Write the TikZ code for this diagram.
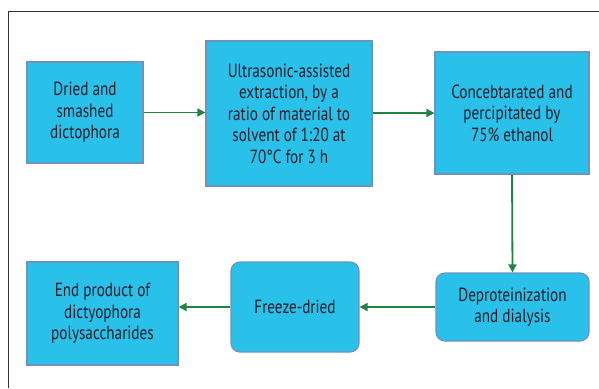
\documentclass[tikz,border=0pt]{standalone}
\usepackage{fontspec}
\setmainfont{PT Sans}[FakeStretch=0.8]
\usetikzlibrary{arrows.meta}
\definecolor{boxfill}{HTML}{29C0EA}
\definecolor{boxline}{HTML}{6F93C0}
\definecolor{arrowc}{HTML}{1F8442}
\definecolor{txt}{HTML}{1C1F2A}
\definecolor{framec}{HTML}{333333}
\tikzset{
  stepbox/.style={draw=boxline, line width=1.2pt, fill=boxfill, inner sep=0pt,
    text=txt, align=center, font=\fontsize{19}{21.5}\selectfont},
  roundbox/.style={stepbox, rounded corners=9pt},
  flow/.style={draw=arrowc, line width=1.8pt, -{Triangle[length=8pt,width=8pt]}}
}
\begin{document}
\begin{tikzpicture}[x=1pt,y=-1pt]
\useasboundingbox (0,0) rectangle (599,388);
\fill[white] (0,0) rectangle (599,388);
\draw[framec, line width=1pt] (8,388) -- (8,11) -- (599,11);
\node[stepbox, minimum width=116pt, minimum height=101pt] (b1) at (85,112.5) {Dried and\\smashed\\dictophora};
\node[stepbox, minimum width=166pt, minimum height=145pt] (b2) at (289,113.5) {Ultrasonic-assisted\\extraction, by a\\ratio of material to\\solvent of 1:20 at\\70\textdegree C for 3 h};
\node[stepbox, minimum width=154pt, minimum height=122pt] (b3) at (512,113) {Concebtarated and\\percipitated by\\75\% ethanol};
\node[roundbox, minimum width=153pt, minimum height=68pt] (b4) at (512.5,307) {Deproteinization\\and dialysis};
\node[roundbox, minimum width=128pt, minimum height=90pt] (b5) at (295,307) {Freeze-dried};
\node[stepbox, minimum width=151pt, minimum height=103pt] (b6) at (102.5,313.5) {End product of\\dictyophora\\polysaccharides};
\draw[flow] (b1.east) -- (b1.east -| b2.west);
\draw[flow] (b2.east |- b3.west) -- (b3.west);
\draw[flow] (b3.south) -- (b4.north);
\draw[flow] (b4.west) -- (b5.east);
\draw[flow] (b5.west) -- (b5.west -| b6.east);
\end{tikzpicture}
\end{document}
